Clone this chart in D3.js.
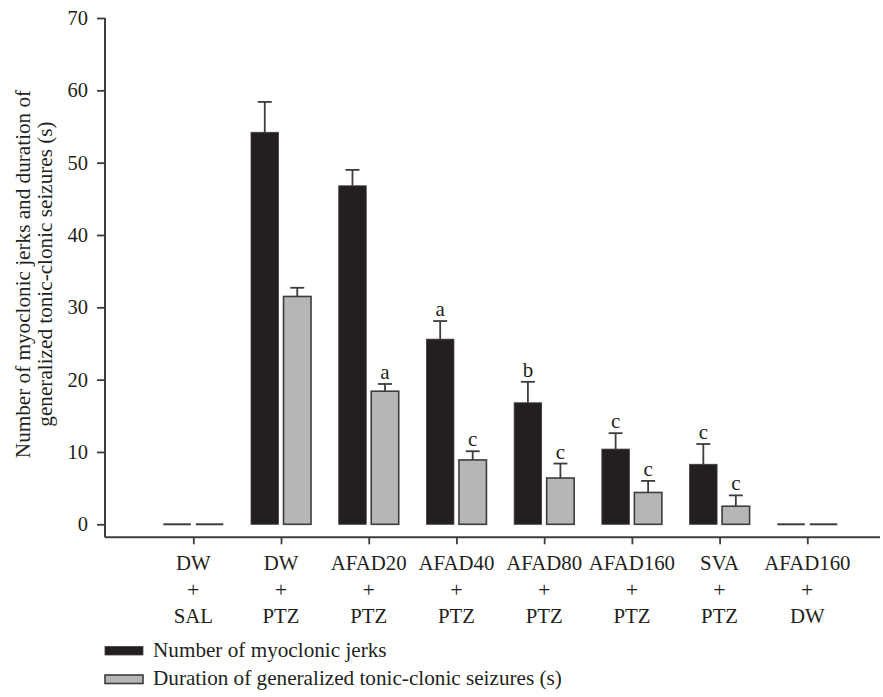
<!DOCTYPE html>
<html>
<head>
<meta charset="utf-8">
<script src="https://cdn.jsdelivr.net/npm/d3@7"></script>
<style>
  html, body { margin: 0; padding: 0; background: #ffffff; }
  svg { display: block; }
  text { font-family: "Liberation Serif", "DejaVu Serif", serif; fill: #231f20; }
</style>
</head>
<body>
<script>
// Treatment groups (drug on first line, challenge on last line)
const groupTop = ["DW", "DW", "AFAD20", "AFAD40", "AFAD80", "AFAD160", "SVA", "AFAD160"];
const groupBottom = ["SAL", "PTZ", "PTZ", "PTZ", "PTZ", "PTZ", "PTZ", "DW"];

// Number of myoclonic jerks (mean, SEM, significance letter)
const jerks = [0, 54.2, 46.8, 25.6, 16.8, 10.4, 8.3, 0];
const jerksSem = [0, 4.2, 2.2, 2.5, 2.9, 2.2, 2.8, 0];
const jerksSig = ["", "", "", "a", "b", "c", "c", ""];

// Duration of generalized tonic-clonic seizures in seconds (mean, SEM, letter)
const duration = [0, 31.5, 18.4, 8.9, 6.4, 4.4, 2.5, 0];
const durationSem = [0, 1.2, 1.0, 1.2, 2.0, 1.6, 1.5, 0];
const durationSig = ["", "", "a", "c", "c", "c", "c", ""];

const yTicks = [0, 10, 20, 30, 40, 50, 60, 70];

const seriesNames = ["Number of myoclonic jerks", "Duration of generalized tonic-clonic seizures (s)"];
const seriesKeys = ["jerks", "duration"];

const W = 883, H = 697;
const AXIS = "#3d3d3e";
const FILL = { jerks: "#231f20", duration: "#b4b6b7" };
const SERIF = "Liberation Serif";

const svg = d3.select("body").append("svg").attr("width", W).attr("height", H);

const ids = groupTop.map((d, i) => i);
const rows = ids.map(i => ({
  i,
  values: [
    { key: "jerks", v: jerks[i], sem: jerksSem[i], sig: jerksSig[i] },
    { key: "duration", v: duration[i], sem: durationSem[i], sig: durationSig[i] }
  ]
}));

const axisX0 = 105, axisX1 = 880, axisY = 537.3;

const x = d3.scalePoint().domain(ids).range([193.3, 807.3]);
const xs = d3.scaleBand().domain(seriesKeys).range([-30, 30]).paddingInner(0.154);
const y = d3.scaleLinear().domain([0, 70]).range([524.3, 18]);

// Y axis
const yAxis = svg.append("g").attr("transform", `translate(${axisX0},0)`)
  .call(d3.axisLeft(y).tickValues(yTicks).tickSize(8).tickPadding(9));
yAxis.attr("font-family", SERIF);
yAxis.select(".domain").remove();
yAxis.selectAll(".tick line").attr("stroke", AXIS).attr("stroke-width", 1.8);
yAxis.selectAll(".tick text").attr("font-size", 20.5).attr("fill", "#231f20");
svg.append("line").attr("x1", axisX0).attr("x2", axisX0).attr("y1", y(70)).attr("y2", axisY)
  .attr("stroke", AXIS).attr("stroke-width", 2);

// X axis
const xAxis = svg.append("g").attr("transform", `translate(0,${axisY})`)
  .call(d3.axisBottom(x).tickSize(7).tickFormat(""));
xAxis.select(".domain").remove();
xAxis.selectAll(".tick line").attr("stroke", AXIS).attr("stroke-width", 1.8);
svg.append("line").attr("x1", axisX0).attr("x2", axisX1).attr("y1", axisY).attr("y2", axisY)
  .attr("stroke", AXIS).attr("stroke-width", 2);

// Three-line category labels
const lab = svg.append("g").attr("font-size", 20.8).attr("text-anchor", "middle");
ids.forEach(i => {
  const t = lab.append("text").attr("x", x(i));
  t.append("tspan").attr("x", x(i)).attr("y", 569.5).text(groupTop[i]);
  t.append("tspan").attr("x", x(i)).attr("y", 597).attr("font-size", 22).text("+");
  t.append("tspan").attr("x", x(i)).attr("y", 622.5).text(groupBottom[i]);
});

// Bars
const grp = svg.append("g").selectAll("g").data(rows).join("g")
  .attr("transform", d => `translate(${x(d.i)},0)`);

const item = grp.selectAll("g").data(d => d.values).join("g");

item.filter(d => d.v > 0).append("rect")
  .attr("x", d => xs(d.key))
  .attr("width", xs.bandwidth())
  .attr("y", d => y(d.v))
  .attr("height", d => y(0) - y(d.v))
  .attr("fill", d => FILL[d.key])
  .attr("stroke", AXIS)
  .attr("stroke-width", d => d.key === "jerks" ? 0.8 : 1.6);

// zero-valued groups show only a flat line at the baseline
item.filter(d => d.v === 0).append("line")
  .attr("x1", d => xs(d.key))
  .attr("x2", d => xs(d.key) + xs.bandwidth())
  .attr("y1", y(0)).attr("y2", y(0))
  .attr("stroke", AXIS).attr("stroke-width", 2);

// Error bars (upper SEM)
const err = item.filter(d => d.sem > 0);
err.append("line")
  .attr("x1", d => xs(d.key) + xs.bandwidth() / 2)
  .attr("x2", d => xs(d.key) + xs.bandwidth() / 2)
  .attr("y1", d => y(d.v)).attr("y2", d => y(d.v + d.sem))
  .attr("stroke", AXIS).attr("stroke-width", 1.8);
err.append("line")
  .attr("x1", d => xs(d.key) + xs.bandwidth() / 2 - 7)
  .attr("x2", d => xs(d.key) + xs.bandwidth() / 2 + 7)
  .attr("y1", d => y(d.v + d.sem)).attr("y2", d => y(d.v + d.sem))
  .attr("stroke", AXIS).attr("stroke-width", 1.8);

// Significance letters
item.filter(d => d.sig).append("text")
  .attr("x", d => xs(d.key) + xs.bandwidth() / 2)
  .attr("y", d => y(d.v + d.sem) - 5)
  .attr("text-anchor", "middle")
  .attr("font-size", 21)
  .text(d => d.sig);

// Y axis title (two lines)
const yt = svg.append("text").attr("font-size", 21.2).attr("text-anchor", "middle")
  .attr("transform", "translate(0,274) rotate(-90)");
yt.append("tspan").attr("x", 0).attr("y", 29.5).text("Number of myoclonic jerks and duration of");
yt.append("tspan").attr("x", 0).attr("y", 51.5).text("generalized tonic-clonic seizures (s)");

// Legend
const leg = svg.append("g").selectAll("g").data(seriesKeys).join("g")
  .attr("transform", (d, i) => `translate(105,${646.5 + i * 28.5})`);
leg.append("rect").attr("x", 0).attr("y", 0).attr("width", 38).attr("height", 8.5)
  .attr("fill", d => FILL[d]).attr("stroke", AXIS).attr("stroke-width", d => d === "jerks" ? 0.8 : 1.6);
leg.append("text").attr("x", 48).attr("y", 10).attr("font-size", 21.2)
  .text((d, i) => seriesNames[i]);
</script>
</body>
</html>
